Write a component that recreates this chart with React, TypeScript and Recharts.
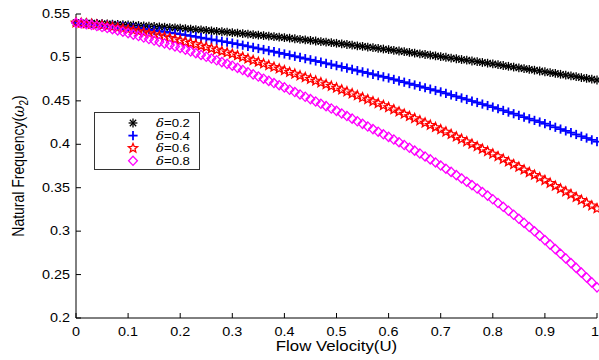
import { LineChart, Line, XAxis, YAxis, Legend } from "recharts";

// flow velocity grid (U), step 0.01
const velocity = Array.from({ length: 101 }, (_, i) => +(i * 0.01).toFixed(2));

// natural frequency ω2, one value per velocity step
const delta02 = [
  0.5400, 0.5398, 0.5396, 0.5394, 0.5391, 0.5388, 0.5386, 0.5383, 0.5380, 0.5378,
  0.5375, 0.5371, 0.5367, 0.5363, 0.5359, 0.5356, 0.5352, 0.5348, 0.5344, 0.5340,
  0.5336, 0.5331, 0.5326, 0.5321, 0.5316, 0.5311, 0.5306, 0.5301, 0.5296, 0.5291,
  0.5286, 0.5280, 0.5275, 0.5269, 0.5263, 0.5257, 0.5251, 0.5246, 0.5240, 0.5234,
  0.5228, 0.5222, 0.5215, 0.5209, 0.5202, 0.5196, 0.5189, 0.5183, 0.5176, 0.5170,
  0.5163, 0.5156, 0.5149, 0.5141, 0.5134, 0.5127, 0.5119, 0.5112, 0.5105, 0.5097,
  0.5090, 0.5082, 0.5074, 0.5066, 0.5058, 0.5050, 0.5042, 0.5034, 0.5026, 0.5018,
  0.5010, 0.5002, 0.4993, 0.4985, 0.4976, 0.4968, 0.4959, 0.4951, 0.4942, 0.4934,
  0.4925, 0.4916, 0.4907, 0.4898, 0.4889, 0.4880, 0.4871, 0.4862, 0.4853, 0.4844,
  0.4835, 0.4826, 0.4816, 0.4806, 0.4797, 0.4788, 0.4778, 0.4768, 0.4759, 0.4750,
  0.4740,
];

const delta04 = [
  0.5400, 0.5398, 0.5395, 0.5391, 0.5387, 0.5382, 0.5377, 0.5371, 0.5365, 0.5359,
  0.5352, 0.5344, 0.5336, 0.5328, 0.5319, 0.5311, 0.5303, 0.5294, 0.5285, 0.5277,
  0.5268, 0.5258, 0.5248, 0.5238, 0.5227, 0.5217, 0.5207, 0.5196, 0.5186, 0.5176,
  0.5165, 0.5153, 0.5141, 0.5128, 0.5116, 0.5103, 0.5091, 0.5078, 0.5066, 0.5053,
  0.5040, 0.5027, 0.5013, 0.5000, 0.4986, 0.4973, 0.4959, 0.4946, 0.4932, 0.4919,
  0.4905, 0.4891, 0.4877, 0.4863, 0.4848, 0.4834, 0.4820, 0.4806, 0.4791, 0.4777,
  0.4763, 0.4747, 0.4731, 0.4715, 0.4699, 0.4683, 0.4667, 0.4651, 0.4635, 0.4619,
  0.4603, 0.4586, 0.4568, 0.4551, 0.4533, 0.4516, 0.4498, 0.4481, 0.4463, 0.4446,
  0.4428, 0.4409, 0.4390, 0.4371, 0.4352, 0.4333, 0.4313, 0.4294, 0.4275, 0.4256,
  0.4237, 0.4216, 0.4196, 0.4175, 0.4154, 0.4134, 0.4113, 0.4092, 0.4072, 0.4051,
  0.4030,
];

const delta06 = [
  0.5400, 0.5395, 0.5389, 0.5383, 0.5376, 0.5369, 0.5361, 0.5352, 0.5343, 0.5333,
  0.5322, 0.5311, 0.5300, 0.5288, 0.5276, 0.5263, 0.5250, 0.5237, 0.5223, 0.5209,
  0.5195, 0.5180, 0.5165, 0.5150, 0.5134, 0.5118, 0.5103, 0.5087, 0.5071, 0.5056,
  0.5040, 0.5022, 0.5004, 0.4985, 0.4966, 0.4947, 0.4928, 0.4909, 0.4889, 0.4870,
  0.4850, 0.4830, 0.4810, 0.4790, 0.4770, 0.4750, 0.4730, 0.4710, 0.4690, 0.4670,
  0.4650, 0.4628, 0.4606, 0.4583, 0.4561, 0.4538, 0.4516, 0.4493, 0.4471, 0.4448,
  0.4425, 0.4400, 0.4375, 0.4349, 0.4323, 0.4298, 0.4272, 0.4247, 0.4221, 0.4196,
  0.4170, 0.4143, 0.4115, 0.4087, 0.4059, 0.4031, 0.4003, 0.3975, 0.3946, 0.3918,
  0.3890, 0.3860, 0.3829, 0.3799, 0.3768, 0.3738, 0.3707, 0.3677, 0.3646, 0.3616,
  0.3585, 0.3553, 0.3520, 0.3488, 0.3455, 0.3423, 0.3390, 0.3358, 0.3325, 0.3293,
  0.3260,
];

const delta08 = [
  0.5400, 0.5392, 0.5383, 0.5373, 0.5362, 0.5350, 0.5338, 0.5325, 0.5311, 0.5296,
  0.5280, 0.5263, 0.5246, 0.5229, 0.5212, 0.5195, 0.5178, 0.5161, 0.5144, 0.5127,
  0.5110, 0.5090, 0.5070, 0.5049, 0.5029, 0.5008, 0.4987, 0.4967, 0.4946, 0.4926,
  0.4905, 0.4880, 0.4855, 0.4830, 0.4805, 0.4780, 0.4755, 0.4730, 0.4705, 0.4680,
  0.4655, 0.4628, 0.4601, 0.4574, 0.4547, 0.4520, 0.4493, 0.4466, 0.4439, 0.4412,
  0.4385, 0.4355, 0.4325, 0.4295, 0.4265, 0.4235, 0.4205, 0.4175, 0.4145, 0.4115,
  0.4085, 0.4055, 0.4024, 0.3992, 0.3960, 0.3927, 0.3894, 0.3860, 0.3826, 0.3791,
  0.3755, 0.3719, 0.3682, 0.3645, 0.3607, 0.3569, 0.3530, 0.3490, 0.3450, 0.3409,
  0.3367, 0.3324, 0.3280, 0.3235, 0.3189, 0.3142, 0.3095, 0.3047, 0.2998, 0.2948,
  0.2897, 0.2845, 0.2793, 0.2740, 0.2686, 0.2632, 0.2577, 0.2522, 0.2466, 0.2410,
  0.2353,
];

const seriesNames = ["0.2", "0.4", "0.6", "0.8"];
const xTicks = [0, 0.1, 0.2, 0.3, 0.4, 0.5, 0.6, 0.7, 0.8, 0.9, 1];
const yTicks = [0.2, 0.25, 0.3, 0.35, 0.4, 0.45, 0.5, 0.55];

const data = velocity.map((u, i) => ({
  u,
  d02: delta02[i],
  d04: delta04[i],
  d06: delta06[i],
  d08: delta08[i],
}));

const FONT = '"Liberation Sans", Arial, Helvetica, sans-serif';
const AXIS = "#000";

function Asterisk({ cx, cy, color }: any) {
  const r = 4.4;
  const d = r * 0.72;
  return (
    <g stroke={color} strokeWidth={1.3}>
      <line x1={cx - r} y1={cy} x2={cx + r} y2={cy} />
      <line x1={cx} y1={cy - r} x2={cx} y2={cy + r} />
      <line x1={cx - d} y1={cy - d} x2={cx + d} y2={cy + d} />
      <line x1={cx - d} y1={cy + d} x2={cx + d} y2={cy - d} />
    </g>
  );
}

function Plus({ cx, cy, color }: any) {
  const r = 4.6;
  return (
    <g stroke={color} strokeWidth={1.8}>
      <line x1={cx - r} y1={cy} x2={cx + r} y2={cy} />
      <line x1={cx} y1={cy - r} x2={cx} y2={cy + r} />
    </g>
  );
}

function Pentagram({ cx, cy, color }: any) {
  const outer = 4.8;
  const inner = 2.1;
  const pts: string[] = [];
  for (let k = 0; k < 10; k++) {
    const r = k % 2 === 0 ? outer : inner;
    const a = -Math.PI / 2 + (k * Math.PI) / 5;
    pts.push(`${cx + r * Math.cos(a)},${cy + r * Math.sin(a)}`);
  }
  return <polygon points={pts.join(" ")} fill="none" stroke={color} strokeWidth={1.3} />;
}

function Diamond({ cx, cy, color }: any) {
  const w = 4.4;
  const h = 4.6;
  return (
    <path
      d={`M${cx},${cy - h}L${cx + w},${cy}L${cx},${cy + h}L${cx - w},${cy}Z`}
      fill="none"
      stroke={color}
      strokeWidth={1.3}
    />
  );
}

const series = [
  { key: "d02", color: "#000000", Marker: Asterisk },
  { key: "d04", color: "#0000ff", Marker: Plus },
  { key: "d06", color: "#ff0000", Marker: Pentagram },
  { key: "d08", color: "#ff00ff", Marker: Diamond },
];

const BottomTick = ({ x, y, payload, index }: any) => {
  const last = index === xTicks.length - 1;
  return (
    <g>
      <line x1={x} x2={x} y1={y} y2={y - 5} stroke={AXIS} />
      <text
        transform={`translate(${last ? x + 2 : x},${y + 18}) scale(1.2,1)`}
        textAnchor={last ? "end" : "middle"}
        fontSize={12}
        fontFamily={FONT}
        fill="#000"
      >
        {payload.value}
      </text>
    </g>
  );
};

const LeftTick = ({ x, y, payload }: any) => (
  <g>
    <line x1={x} x2={x + 5} y1={y} y2={y} stroke={AXIS} />
    <text
      transform={`translate(${x - 6},${y + 4}) scale(1.2,1)`}
      textAnchor="end"
      fontSize={12}
      fontFamily={FONT}
      fill="#000"
    >
      {payload.value}
    </text>
  </g>
);

const TopTick = ({ x, y }: any) => <line x1={x} x2={x} y1={y} y2={y + 5} stroke={AXIS} />;
const RightTick = ({ x, y }: any) => <line x1={x} x2={x - 5} y1={y} y2={y} stroke={AXIS} />;

const renderXTitle = ({ viewBox }: any) => (
  <text
    transform={`translate(${viewBox.x + viewBox.width / 2},${viewBox.y + 33}) scale(1.2,1)`}
    textAnchor="middle"
    fontSize={14}
    fontFamily={FONT}
    fill="#000"
  >
    Flow Velocity(U)
  </text>
);

const renderYTitle = ({ viewBox }: any) => (
  <text
    transform={`translate(${viewBox.x + 24},${viewBox.y + viewBox.height / 2}) scale(1.2,1) rotate(-90)`}
    textAnchor="middle"
    fontSize={14}
    fontFamily={FONT}
    fill="#000"
  >
    Natural Frequency(
    <tspan fontStyle="italic" fontFamily="DejaVu Serif, serif">ω</tspan>
    <tspan fontSize={10} dy={3}>2</tspan>
    <tspan dy={-3}>)</tspan>
  </text>
);

const LegendBox = () => (
  <svg width={106} height={58} style={{ display: "block" }}>
    <rect x={0.5} y={0.5} width={105} height={57} fill="#fff" stroke="#333" />
    {series.map((s, i) => {
      const cy = 11 + i * 12.6;
      const M = s.Marker;
      return (
        <g key={s.key}>
          <M cx={39} cy={cy} color={s.color} />
          <text
            transform={`translate(62,${cy + 4}) scale(1.2,1)`}
            fontSize={11}
            fontFamily={FONT}
            fill="#000"
          >
            <tspan fontStyle="italic" fontFamily="DejaVu Serif, serif">δ</tspan>
            {"=" + seriesNames[i]}
          </text>
        </g>
      );
    })}
  </svg>
);

export default function App() {
  return (
    <div style={{ position: "absolute", left: 0, top: 0, width: 599, height: 360, background: "#fff" }}>
      <LineChart width={599} height={360} data={data} margin={{ top: 14, right: 2, bottom: 0, left: 0 }}>
        <XAxis
          dataKey="u"
          type="number"
          domain={[0, 1]}
          ticks={xTicks}
          interval={0}
          height={42}
          tickSize={0}
          tickMargin={0}
          tick={<BottomTick />}
          axisLine={{ stroke: AXIS }}
          label={renderXTitle}
        />
        <XAxis
          xAxisId="top"
          orientation="top"
          dataKey="u"
          type="number"
          domain={[0, 1]}
          ticks={xTicks}
          interval={0}
          height={0}
          tickSize={0}
          tickMargin={0}
          tick={<TopTick />}
          axisLine={{ stroke: AXIS }}
        />
        <YAxis
          type="number"
          domain={[0.2, 0.55]}
          ticks={yTicks}
          interval={0}
          width={76}
          tickSize={0}
          tickMargin={0}
          tick={<LeftTick />}
          axisLine={{ stroke: AXIS }}
          label={renderYTitle}
        />
        <YAxis
          yAxisId="right"
          orientation="right"
          type="number"
          domain={[0.2, 0.55]}
          ticks={yTicks}
          interval={0}
          width={0}
          tickSize={0}
          tickMargin={0}
          tick={<RightTick />}
          axisLine={{ stroke: AXIS }}
        />
        <Legend
          layout="vertical"
          align="center"
          verticalAlign="middle"
          content={<LegendBox />}
          wrapperStyle={{ left: 94, top: 112, width: 106, height: 58 }}
        />
        {series.map((s) => (
          <Line
            key={s.key}
            dataKey={s.key}
            stroke="none"
            isAnimationActive={false}
            activeDot={false}
            dot={(p: any) => <s.Marker key={p.index} cx={p.cx} cy={p.cy} color={s.color} />}
          />
        ))}
      </LineChart>
    </div>
  );
}
